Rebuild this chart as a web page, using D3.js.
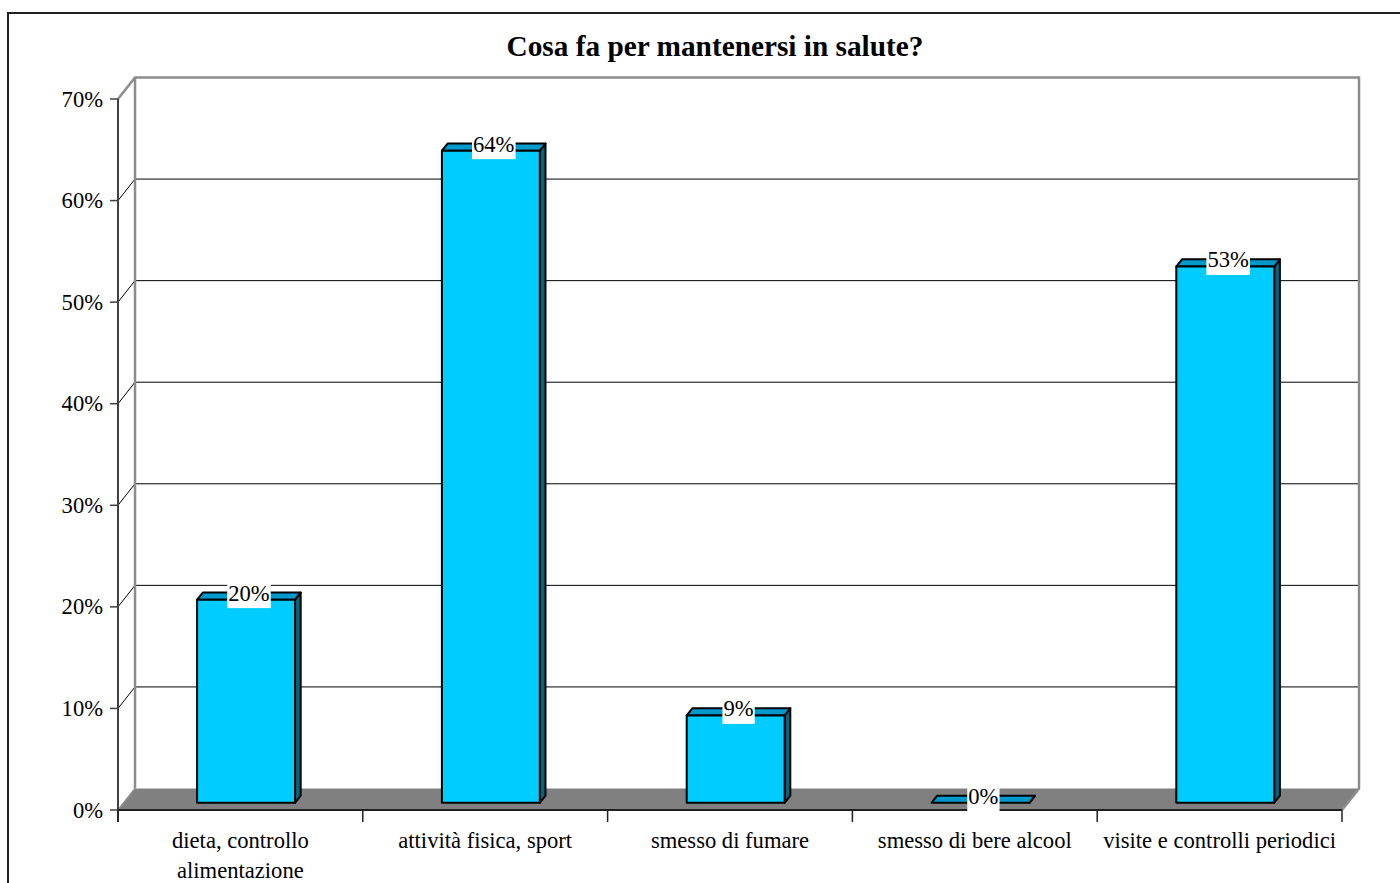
<!DOCTYPE html>
<html>
<head>
<meta charset="utf-8">
<script src="https://cdn.jsdelivr.net/npm/d3@7"></script>
<style>
  html, body { margin: 0; padding: 0; background: #fff; }
  svg { display: block; }
  text { font-family: "Liberation Serif", "Times New Roman", serif; fill: #000; }
</style>
</head>
<body>
<svg id="chart" width="1400" height="883"></svg>
<script>
// ---- data ----
const title = "Cosa fa per mantenersi in salute?";
const categories = [
  ["dieta, controllo", "alimentazione"],
  ["attività fisica, sport"],
  ["smesso di fumare"],
  ["smesso di bere alcool"],
  ["visite e controlli periodici"]
];
const values = [0.200, 0.642, 0.086, 0.0, 0.528];
const yTicks = [0, 0.1, 0.2, 0.3, 0.4, 0.5, 0.6, 0.7];

(function () {
// ---- layout ----
const svg = d3.select("#chart");
const pLeft = 118, pRight = 1342, pTop = 99, pBottom = 810;
const DX = 17, DY = -21.5;           // depth offset of the 3D box
const dFront = 1 / 3, dBack = 2 / 3; // depth range of the bars
const fs = "22.6px";

const catIdx = categories.map((c, i) => i);
const xBand = d3.scaleBand().domain(catIdx).range([pLeft, pRight]).paddingInner(0).paddingOuter(0);
const xBar = d3.scaleBand().domain(catIdx).range([pLeft, pRight]).paddingInner(0.6).paddingOuter(0.3);
const y = d3.scaleLinear().domain([0, 0.7]).range([pBottom, pTop]);
const pct = d3.format(".0%");

// outer border
svg.append("rect").attr("x", 8).attr("y", 13).attr("width", 1600).attr("height", 1200)
  .attr("fill", "none").attr("stroke", "#222").attr("stroke-width", 2);

// title
svg.append("text").attr("x", 715).attr("y", 56).attr("text-anchor", "middle")
  .style("font-size", "29.3px").style("font-weight", "bold").text(title);

// back wall
svg.append("rect").attr("x", pLeft + DX).attr("y", pTop + DY)
  .attr("width", pRight - pLeft).attr("height", pBottom - pTop)
  .attr("fill", "#fff");

// gridlines (left wall diagonal + back wall)
const grid = svg.append("g");
yTicks.filter(t => t > 0 && t < 0.7).forEach(t => {
  grid.append("path")
    .attr("d", `M${pLeft},${y(t)} L${pLeft + DX},${y(t) + DY} L${pRight + DX},${y(t) + DY}`)
    .attr("fill", "none").attr("stroke", "#000").attr("stroke-width", 1);
});

// floor
svg.append("path")
  .attr("d", `M${pLeft},${pBottom} L${pRight},${pBottom} L${pRight + DX},${pBottom + DY} L${pLeft + DX},${pBottom + DY} Z`)
  .attr("fill", "#808080");

// walls outline (gray)
svg.append("path")
  .attr("d", `M${pLeft},${pTop} L${pLeft + DX},${pTop + DY} L${pRight + DX},${pTop + DY} L${pRight + DX},${pBottom + DY} L${pRight},${pBottom}`)
  .attr("fill", "none").attr("stroke", "#8c8c8c").attr("stroke-width", 2.5).attr("stroke-linejoin", "miter");
svg.append("line").attr("x1", pLeft + DX).attr("x2", pLeft + DX)
  .attr("y1", pTop + DY).attr("y2", pBottom + DY)
  .attr("stroke", "#8c8c8c").attr("stroke-width", 2.5);
svg.append("line").attr("x1", pLeft).attr("x2", pLeft + DX)
  .attr("y1", pBottom).attr("y2", pBottom + DY)
  .attr("stroke", "#8c8c8c").attr("stroke-width", 1.5);

// y axis (front left edge)
svg.append("line").attr("x1", pLeft).attr("x2", pLeft).attr("y1", pTop).attr("y2", pBottom + 12)
  .attr("stroke", "#404040").attr("stroke-width", 2);
const yAx = svg.append("g");
yTicks.forEach(t => {
  yAx.append("line").attr("x1", pLeft - 8).attr("x2", pLeft).attr("y1", y(t)).attr("y2", y(t))
    .attr("stroke", "#404040").attr("stroke-width", 1.5);
  yAx.append("text").attr("x", pLeft - 15).attr("y", y(t) + 7.5).attr("text-anchor", "end")
    .style("font-size", fs).text(pct(t));
});

// x axis front line and category ticks
svg.append("line").attr("x1", pLeft).attr("x2", pRight).attr("y1", pBottom).attr("y2", pBottom)
  .attr("stroke", "#202020").attr("stroke-width", 2);
const bounds = catIdx.map(i => xBand(i)).concat([pRight]);
bounds.forEach(b => {
  svg.append("line").attr("x1", b).attr("x2", b).attr("y1", pBottom).attr("y2", pBottom + 12)
    .attr("stroke", "#202020").attr("stroke-width", 1.5);
});
categories.forEach((lines, i) => {
  const cx = xBand(i) + xBand.bandwidth() / 2;
  const tx = svg.append("text").attr("text-anchor", "middle").style("font-size", fs);
  lines.forEach((ln, k) => {
    tx.append("tspan").attr("x", cx).attr("y", 848 + k * 30).text(ln);
  });
});

// bars
const fx = dFront * DX, fy = dFront * DY, bx = dBack * DX, by = dBack * DY;
const bars = svg.append("g");
values.forEach((v, i) => {
  const x0 = xBar(i), x1 = x0 + xBar.bandwidth();
  const yt = y(v), yb = y(0);
  const g = bars.append("g").attr("stroke", "#000").attr("stroke-width", 2).attr("stroke-linejoin", "round");
  // side face
  g.append("path")
    .attr("d", `M${x1 + fx},${yt + fy} L${x1 + bx},${yt + by} L${x1 + bx},${yb + by} L${x1 + fx},${yb + fy} Z`)
    .attr("fill", "#006680");
  // top face
  g.append("path")
    .attr("d", `M${x0 + fx},${yt + fy} L${x1 + fx},${yt + fy} L${x1 + bx},${yt + by} L${x0 + bx},${yt + by} Z`)
    .attr("fill", "#0099CC");
  // front face
  if (yb - yt > 0.5) {
    g.append("rect").attr("x", x0 + fx).attr("y", yt + fy)
      .attr("width", x1 - x0).attr("height", yb - yt).attr("fill", "#00CCFF");
  }
});

// data labels
const labels = svg.append("g");
values.forEach((v, i) => {
  const cx = xBar(i) + xBar.bandwidth() / 2 + 0.5 * DX;
  const cy = y(v) + 0.5 * DY;
  const t = labels.append("text").attr("x", cx).attr("y", cy + 4.5).attr("text-anchor", "middle")
    .style("font-size", fs).text(pct(Math.round(v * 100) / 100));
  const bb = t.node().getBBox();
  labels.insert("rect", () => t.node())
    .attr("x", bb.x - 1).attr("y", cy - 13).attr("width", bb.width + 2).attr("height", 25)
    .attr("fill", "#fff");
});
})();
</script>
</body>
</html>
